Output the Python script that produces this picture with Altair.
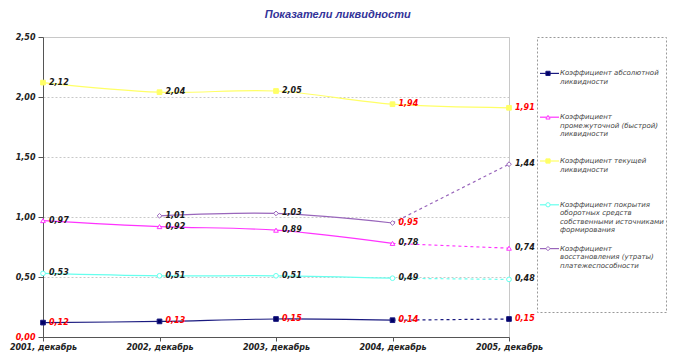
import altair as alt
import pandas as pd

years = ["2001, декабрь", "2002, декабрь", "2003, декабрь", "2004, декабрь", "2005, декабрь"]
series = [
    "Коэффициент абсолютной ликвидности",
    "Коэффициент промежуточной (быстрой) ликвидности",
    "Коэффициент текущей ликвидности",
    "Коэффициент покрытия оборотных средств собственными источниками формирования",
    "Коэффициент восстановления (утраты) платежеспособности",
]
legend_text = [
    "Коэффициент абсолютной\nликвидности",
    "Коэффициент\nпромежуточной (быстрой)\nликвидности",
    "Коэффициент текущей\nликвидности",
    "Коэффициент покрытия\nоборотных средств\nсобственными источниками\nформирования",
    "Коэффициент\nвосстановления (утраты)\nплатежеспособности",
]
abs_liq = [0.12, 0.13, 0.15, 0.14, 0.15]
quick_liq = [0.97, 0.92, 0.89, 0.78, 0.74]
current_liq = [2.12, 2.04, 2.05, 1.94, 1.91]
coverage = [0.53, 0.51, 0.51, 0.49, 0.48]
restore = [None, 1.01, 1.03, 0.95, 1.44]
values = [abs_liq, quick_liq, current_liq, coverage, restore]
# which point labels are printed in red
red_labels = [
    [1, 1, 1, 1, 1],
    [0, 0, 0, 0, 0],
    [0, 0, 0, 1, 1],
    [0, 0, 0, 0, 0],
    [0, 0, 0, 1, 0],
]
# the last interval is a forecast (dashed) except for current liquidity
forecast_dashed = [True, True, False, True, True]

colors = ["#1a1a80", "#ff33ff", "#ffff66", "#66ffee", "#9966bb"]
fills = ["#000066", "#ffffff", "#ffff66", "#ffffff", "#ffffff"]
shapes = ["square", "triangle-up", "square", "circle", "diamond"]

rows = []
for si, s in enumerate(series):
    for yi, y in enumerate(years):
        v = values[si][yi]
        if v is None:
            continue
        rows.append({
            "series": s, "year": y, "yi": yi, "value": v,
            "label": f"{v:.2f}".replace(".", ","),
            "red": bool(red_labels[si][yi]),
            "dashed": forecast_dashed[si],
        })
df = pd.DataFrame(rows)

color_scale = alt.Scale(domain=series, range=colors)
fill_scale = alt.Scale(domain=series, range=fills)
shape_scale = alt.Scale(domain=series, range=shapes)

x_enc = alt.X("year:O", sort=years, scale=alt.Scale(padding=0),
              axis=alt.Axis(title=None, labelAngle=0, grid=False, domainColor="#555",
                            tickColor="#555", tickSize=4, labelFontSize=8,
                            labelFont="DejaVu Sans", labelFontStyle="italic",
                            labelFontWeight="bold", labelColor="#222", labelPadding=2))
y_enc = alt.Y("value:Q", scale=alt.Scale(domain=[0, 2.5]),
              axis=alt.Axis(title=None, values=[0, 0.5, 1, 1.5, 2, 2.5],
                            labelExpr="replace(format(datum.value, '.2f'), '.', ',')",
                            gridDash=[2, 2], gridColor="#c8c8c8", domainColor="#555",
                            tickColor="#555", tickSize=5, labelFontSize=8,
                            labelFont="DejaVu Sans", labelFontStyle="italic",
                            labelFontWeight="bold", labelPadding=3, minExtent=33,
                            labelColor={"condition": {"test": "datum.value == 0", "value": "#ff0000"},
                                        "value": "#222222"}))

base = alt.Chart(df)

solid = base.transform_filter("datum.yi <= 3 || !datum.dashed").mark_line(
    interpolate="catmull-rom", strokeWidth=1.2
).encode(x=x_enc, y=y_enc,
         color=alt.Color("series:N", scale=color_scale, legend=None))

dashed = base.transform_filter("datum.yi >= 3 && datum.dashed").mark_line(
    strokeWidth=1.2, strokeDash=[3, 3]
).encode(x=x_enc, y=y_enc,
         color=alt.Color("series:N", scale=color_scale, legend=None))

points = base.mark_point(size=22, strokeWidth=1, opacity=1, fillOpacity=1).encode(
    x=x_enc, y=y_enc,
    stroke=alt.Stroke("series:N", scale=color_scale, legend=None),
    fill=alt.Fill("series:N", scale=fill_scale, legend=None),
    shape=alt.Shape("series:N", scale=shape_scale, legend=None),
)

labels = base.mark_text(align="left", baseline="middle", dx=6, fontSize=8,
                        font="DejaVu Sans", fontStyle="italic", fontWeight="bold").encode(
    x=x_enc, y=y_enc, text="label:N",
    color=alt.condition("datum.red", alt.value("#ff0000"), alt.value("#1a1a1a")),
)

main = alt.layer(solid, dashed, points, labels).properties(
    width=466, height=300,
    view=alt.ViewBackground(stroke="#c8c8c8", strokeWidth=1),
)

# legend panel
ldf = pd.DataFrame({"series": series, "text": legend_text})
ly = alt.Y("series:N", sort=series, scale=alt.Scale(range=[14.5, 233.5]), axis=None)
lrule = alt.Chart(ldf).mark_rule(strokeWidth=1.2).encode(
    x=alt.value(3), x2=alt.value(22), y=ly,
    color=alt.Color("series:N", scale=color_scale, legend=None))
lpoint = alt.Chart(ldf).mark_point(size=18, strokeWidth=1, opacity=1, fillOpacity=1).encode(
    x=alt.value(11), y=ly,
    stroke=alt.Stroke("series:N", scale=color_scale, legend=None),
    fill=alt.Fill("series:N", scale=fill_scale, legend=None),
    shape=alt.Shape("series:N", scale=shape_scale, legend=None))
ltext = alt.Chart(ldf).mark_text(align="left", baseline="top", dy=-4, fontSize=7,
                                 lineHeight=8.5, lineBreak="\n", font="DejaVu Sans",
                                 fontStyle="italic", color="#444444").encode(
    x=alt.value(23), y=ly, text="text:N")
legend = alt.layer(lrule, lpoint, ltext).properties(
    width=129, height=275,
    view=alt.ViewBackground(stroke="#999999", strokeDash=[2, 2], strokeWidth=1),
)

chart = alt.hconcat(main, legend, spacing=28, bounds="flush").properties(
    padding=0,
    title=alt.Title("Показатели ликвидности", fontSize=11, font="Liberation Sans",
                    fontStyle="italic", fontWeight="bold", color="#333399",
                    anchor="middle", offset=13),
).resolve_scale(color="independent", stroke="independent", fill="independent",
                shape="independent", y="independent")

chart.save("out.html", embed_options={"renderer": "svg", "actions": False})
